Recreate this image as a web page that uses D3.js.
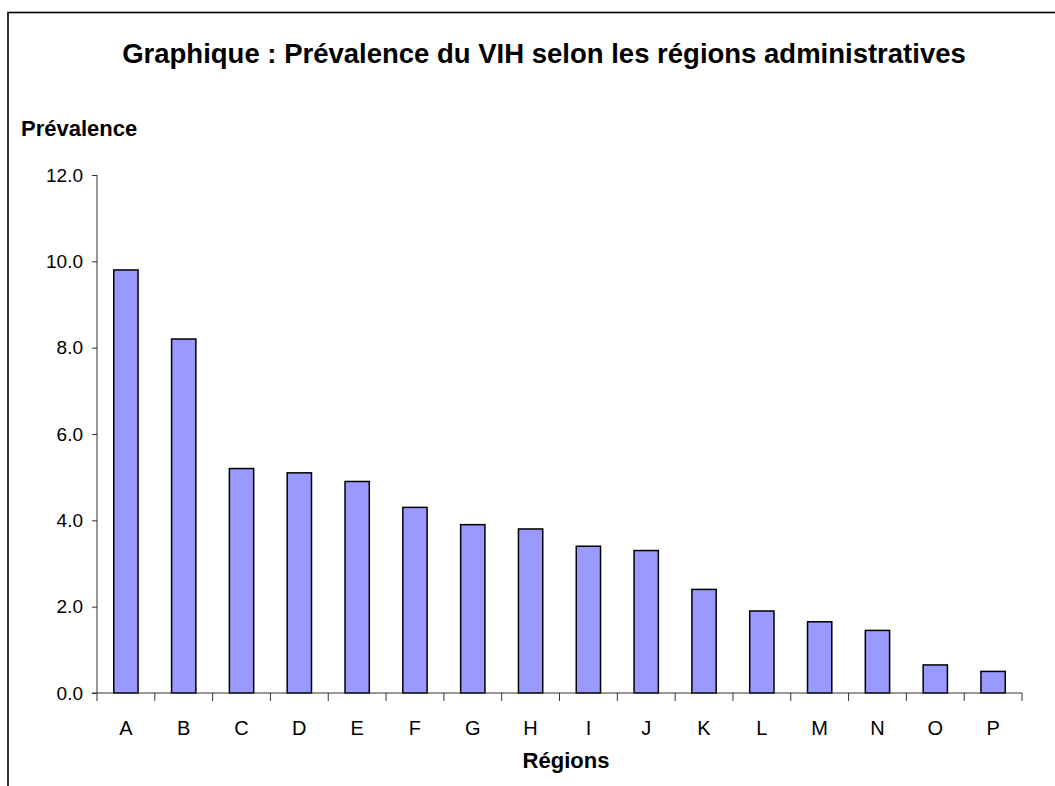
<!DOCTYPE html>
<html>
<head>
<meta charset="utf-8">
<script src="https://cdn.jsdelivr.net/npm/d3@7"></script>
<style>
  body { margin: 0; background: #fff; }
  text { font-family: Arial, "Liberation Sans", sans-serif; }
</style>
</head>
<body>
<div id="root"></div>
<script>
let regions = ['A', 'B', 'C', 'D', 'E', 'F', 'G', 'H', 'I', 'J', 'K', 'L', 'M', 'N', 'O', 'P'];
let prevalence = [9.8, 8.2, 5.2, 5.1, 4.9, 4.3, 3.9, 3.8, 3.4, 3.3, 2.4, 1.9, 1.65, 1.45, 0.65, 0.5];
let yTicks = [0, 2, 4, 6, 8, 10, 12];

let chartTitle = 'Graphique : Prévalence du VIH selon les régions administratives';
let yTitle = 'Prévalence';
let xTitle = 'Régions';

let width = 1055, height = 786;
let plot = {left: 97, right: 1022, top: 175, bottom: 693};

let svg = d3.select('#root').append('svg')
    .attr('width', width)
    .attr('height', height);

// outer frame, runs off the right and bottom edges
svg.append('rect')
    .attr('x', 8)
    .attr('y', 12.5)
    .attr('width', 1100)
    .attr('height', 900)
    .attr('fill', 'none')
    .attr('stroke', '#000')
    .attr('stroke-width', 1.6);

let x = d3.scaleBand()
    .domain(regions)
    .range([plot.left, plot.right])
    .padding(0);

let y = d3.scaleLinear()
    .domain([0, 12])
    .range([plot.bottom, plot.top]);

let barW = x.bandwidth() * 0.42;

svg.append('g')
    .selectAll('rect')
    .data(regions)
    .join('rect')
    .attr('x', d => x(d) + (x.bandwidth() - barW) / 2)
    .attr('y', (d, i) => y(prevalence[i]))
    .attr('width', barW)
    .attr('height', (d, i) => y(0) - y(prevalence[i]))
    .attr('fill', '#9999ff')
    .attr('stroke', '#000')
    .attr('stroke-width', 1.5);

// y axis
let yAxis = svg.append('g')
    .attr('transform', `translate(${plot.left},0)`)
    .call(d3.axisLeft(y).tickValues(yTicks).tickFormat(d3.format('.1f')).tickSize(5).tickPadding(9));
yAxis.select('.domain').attr('stroke', '#333').attr('d', `M0,${plot.top}V${plot.bottom}`);
yAxis.selectAll('.tick line').attr('stroke', '#333');
yAxis.selectAll('.tick text')
    .attr('font-size', 19)
    .attr('font-family', 'Arial, "Liberation Sans", sans-serif')
    .attr('fill', '#000');

// x axis: ticks on category boundaries
let xAxis = svg.append('g')
    .attr('transform', `translate(0,${plot.bottom})`);
xAxis.append('line')
    .attr('x1', plot.left - 5)
    .attr('x2', plot.right)
    .attr('stroke', '#333');
xAxis.selectAll('.bound')
    .data(regions.concat(['end']))
    .join('line')
    .attr('class', 'bound')
    .attr('x1', (d, i) => i < regions.length ? x(d) : plot.right)
    .attr('x2', (d, i) => i < regions.length ? x(d) : plot.right)
    .attr('y1', 0)
    .attr('y2', 8)
    .attr('stroke', '#333');
xAxis.selectAll('.lbl')
    .data(regions)
    .join('text')
    .attr('class', 'lbl')
    .attr('x', d => x(d) + x.bandwidth() / 2)
    .attr('y', 42)
    .attr('text-anchor', 'middle')
    .attr('font-size', 20)
    .text(d => d);

// titles
svg.append('text')
    .attr('x', 544)
    .attr('y', 63)
    .attr('text-anchor', 'middle')
    .attr('font-size', 27.5)
    .attr('font-weight', 'bold')
    .text(chartTitle);

svg.append('text')
    .attr('x', 21)
    .attr('y', 136)
    .attr('font-size', 22)
    .attr('font-weight', 'bold')
    .text(yTitle);

svg.append('text')
    .attr('x', 566)
    .attr('y', 768)
    .attr('text-anchor', 'middle')
    .attr('font-size', 22)
    .attr('font-weight', 'bold')
    .text(xTitle);
</script>
</body>
</html>
